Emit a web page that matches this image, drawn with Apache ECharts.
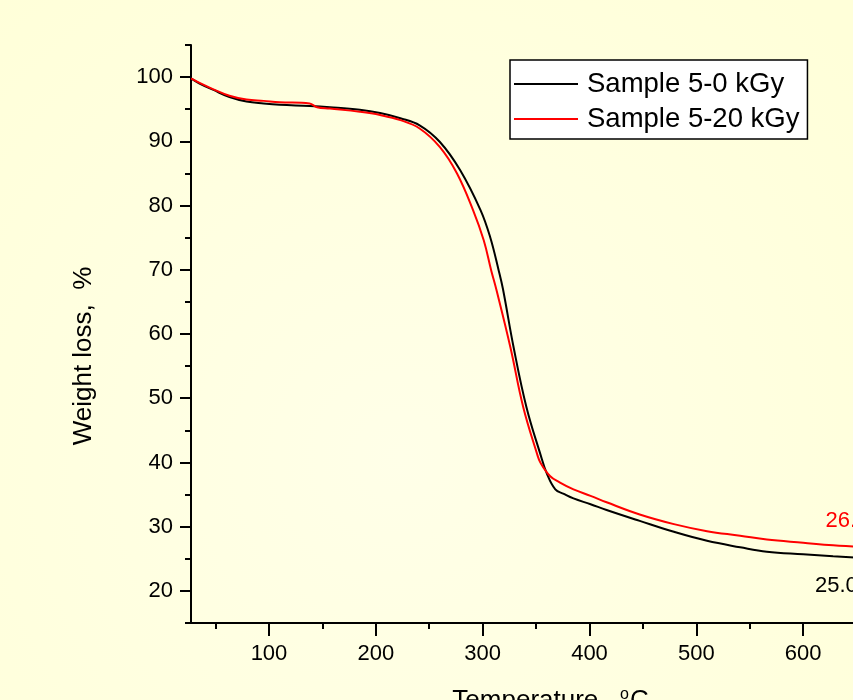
<!DOCTYPE html>
<html>
<head>
<meta charset="utf-8">
<script src="https://cdn.jsdelivr.net/npm/echarts@6/dist/echarts.min.js"></script>
<style>
  html, body { margin: 0; padding: 0; overflow: hidden; width: 853px; height: 700px; background: #ffffdf; }
  #chart { width: 1000px; height: 760px; }
</style>
</head>
<body>
<div id="chart"></div>
<script>
// Sample 5-0 kGy
var temp0 = [27, 35, 48, 63, 79, 95, 110, 138, 157, 185, 204, 223, 241, 260, 279, 298, 307, 315, 319, 329, 341, 354, 360, 368, 376, 385, 401, 416, 447, 479, 510, 541, 566, 600, 628, 660, 700];
var weight0 = [99.8, 99.0, 98.0, 96.9, 96.2, 95.9, 95.7, 95.5, 95.3, 94.9, 94.4, 93.6, 92.5, 89.9, 85.5, 79.3, 75.1, 69.9, 67.0, 57.9, 48.6, 41.3, 38.3, 35.8, 35.1, 34.4, 33.5, 32.6, 30.9, 29.2, 27.8, 26.8, 26.1, 25.7, 25.4, 25.1, 24.8];

// Sample 5-20 kGy
var temp20 = [27, 35, 48, 63, 79, 95, 110, 138, 145, 157, 185, 204, 223, 241, 260, 276, 291, 301, 308, 313, 326, 338, 351, 354, 363, 372, 385, 401, 416, 447, 479, 510, 541, 566, 600, 628, 660, 700];
var weight20 = [99.8, 99.1, 98.1, 97.1, 96.5, 96.3, 96.1, 95.9, 95.3, 95.1, 94.6, 94.1, 93.3, 92.0, 89.1, 85.0, 79.3, 74.6, 69.9, 66.8, 57.9, 48.6, 41.3, 40.0, 37.9, 36.9, 35.8, 34.8, 33.8, 31.9, 30.4, 29.3, 28.6, 28.0, 27.5, 27.1, 26.8, 26.5];

var seriesNames = ['Sample 5-0 kGy', 'Sample 5-20 kGy'];
var seriesColors = ['#000000', '#ff0000'];

var xMajor = [100, 200, 300, 400, 500, 600, 700];
var xMinor = [50, 150, 250, 350, 450, 550, 650];
var yMajor = [20, 30, 40, 50, 60, 70, 80, 90, 100];
var yMinor = [15, 25, 35, 45, 55, 65, 75, 85, 95, 105];

// end-point annotations
var note0 = { temp: 611, weight: 20.8, text: '25.0 %' };
var note20 = { temp: 621, weight: 30.9, text: '26.8 %' };

function pairs(xs, ys) {
    var out = [];
    for (var i = 0; i < xs.length; i++) out.push([xs[i], ys[i]]);
    return out;
}

var font = 'Liberation Sans, Arial, sans-serif';
var axisLine = { show: true, onZero: false, lineStyle: { color: '#000', width: 2 } };

function lineSeries(idx, xs, ys, note) {
    return {
        name: seriesNames[idx],
        type: 'line',
        data: pairs(xs, ys),
        symbol: 'none',
        smooth: 0.4,
        color: seriesColors[idx],
        lineStyle: { width: 2, color: seriesColors[idx] },
        markPoint: {
            symbol: 'circle',
            symbolSize: 0,
            label: {
                show: true,
                position: 'right',
                distance: 0,
                color: seriesColors[idx],
                fontFamily: font,
                fontSize: 22,
                formatter: note.text
            },
            data: [{ coord: [note.temp, note.weight] }]
        }
    };
}

var option = {
    animation: false,
    backgroundColor: {
        type: 'radial', x: 0.4, y: 0.6, r: 0.8,
        colorStops: [{ offset: 0, color: '#ffffe8' }, { offset: 1, color: '#ffffd9' }]
    },
    grid: { left: 191, top: 45, width: 719, height: 578, outerBoundsMode: 'none', containLabel: false },
    legend: {
        orient: 'vertical',
        left: 510,
        top: 60,
        padding: [9, 8, 5, 4],
        itemGap: 5,
        itemWidth: 64,
        itemHeight: 2,
        icon: 'rect',
        backgroundColor: '#ffffff',
        borderColor: '#000',
        borderWidth: 1.5,
        borderRadius: 0,
        textStyle: { color: '#000', fontFamily: font, fontSize: 27.5, lineHeight: 30, padding: [0, 0, 0, 4] },
        data: seriesNames
    },
    xAxis: [{
        type: 'value',
        min: 27,
        max: 700,
        position: 'bottom',
        axisLine: axisLine,
        splitLine: { show: false },
        axisTick: { show: true, length: 13, customValues: xMajor, lineStyle: { color: '#000', width: 2 } },
        axisLabel: { show: true, margin: 20, customValues: xMajor, color: '#000', fontFamily: font, fontSize: 22 },
        name: '{t|Temperature,  }{sup|o}{t|C}',
        nameLocation: 'middle',
        nameGap: 64,
        nameTextStyle: {
            rich: {
                t: { fontFamily: font, fontSize: 26, color: '#000' },
                sup: { fontFamily: font, fontSize: 16, color: '#000', verticalAlign: 'top', padding: [0, 1, 12, 0] }
            }
        }
    }, {
        type: 'value',
        min: 27,
        max: 700,
        position: 'bottom',
        offset: 0,
        axisLine: { show: false },
        splitLine: { show: false },
        axisTick: { show: true, length: 6, customValues: xMinor, lineStyle: { color: '#000', width: 2 } },
        axisLabel: { show: false }
    }],
    yAxis: [{
        type: 'value',
        min: 15,
        max: 105,
        position: 'left',
        axisLine: axisLine,
        splitLine: { show: false },
        axisTick: { show: true, length: 11, customValues: yMajor, lineStyle: { color: '#000', width: 2 } },
        axisLabel: { show: true, margin: 18, customValues: yMajor, color: '#000', fontFamily: font, fontSize: 22 },
        name: 'Weight loss,  %',
        nameLocation: 'middle',
        nameGap: 94,
        nameTextStyle: { color: '#000', fontFamily: font, fontSize: 26, padding: [0, 44, 0, 0] }
    }, {
        type: 'value',
        min: 15,
        max: 105,
        position: 'left',
        offset: 0,
        axisLine: { show: false },
        splitLine: { show: false },
        axisTick: { show: true, length: 6, customValues: yMinor, lineStyle: { color: '#000', width: 2 } },
        axisLabel: { show: false }
    }],
    series: [
        lineSeries(0, temp0, weight0, note0),
        lineSeries(1, temp20, weight20, note20)
    ]
};

echarts.init(document.getElementById('chart')).setOption(option);
</script>
</body>
</html>
